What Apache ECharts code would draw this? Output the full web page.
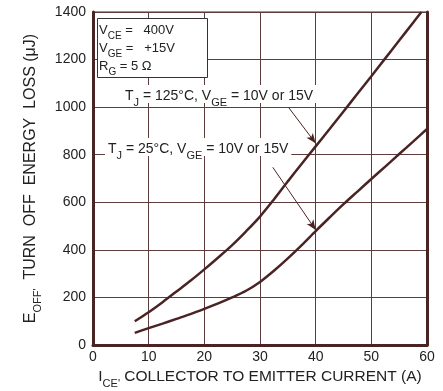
<!DOCTYPE html>
<html><head><meta charset="utf-8">
<script src="https://cdn.jsdelivr.net/npm/echarts@6/dist/echarts.min.js"></script>
<style>html,body{margin:0;padding:0;background:#fff}#c{width:443px;height:391px}</style>
</head><body><div id="c"></div>
<script>
const xTicks = [0, 10, 20, 30, 40, 50, 60];
const yTicks = [0, 200, 400, 600, 800, 1000, 1200, 1400];
const hotX = [7.5, 10, 12.5, 15, 17.5, 20, 22.5, 25, 27.5, 30, 32.5, 35, 37.5, 40, 42.5, 45, 47.5, 50, 52.5, 55, 57.5, 59];
const hotY = [100, 138, 180, 225, 270, 318, 368, 420, 478, 540, 612, 688, 762, 835, 908, 982, 1056, 1130, 1205, 1280, 1355, 1400];
const coldX = [7.5, 10, 12.5, 15, 17.5, 20, 22.5, 25, 27.5, 30, 32.5, 35, 37.5, 40, 42.5, 45, 47.5, 50, 52.5, 55, 57.5, 60];
const coldY = [51, 71, 90, 110, 130, 152, 175, 200, 228, 265, 312, 364, 420, 479, 536, 592, 645, 698, 750, 803, 855, 908];
const arrowHot = [[35.1, 1000], [40, 848]];
const arrowCold = [[32.3, 747], [40, 484]];

const dark = '#4a2424';
const grid = '#5e3c3c';
const ff = '"Liberation Sans", Arial, sans-serif';
const chart = echarts.init(document.getElementById('c'));
const pair = (xs, ys) => xs.map((x, i) => [x, ys[i]]);
const mkRich = (big, small, lh, sh, off) => ({
  b: {fontSize: big, fontFamily: ff, color: '#222', fill: '#222', lineHeight: lh, verticalAlign: 'bottom'},
  s: {fontSize: small, fontFamily: ff, color: '#222', fill: '#222', lineHeight: sh, verticalAlign: 'bottom', padding: [0,0,-off,0]}
});
chart.setOption({
  animation: false,
  grid: {left: 93, right: 16, top: 12, bottom: 46, show: true, borderColor: dark, borderWidth: 1, outerBoundsMode: 'none', containLabel: false},
  xAxis: {
    type: 'value', min: 0, max: 60, interval: 10,
    axisLine: {show: true, lineStyle: {color: dark, width: 3}},
    axisTick: {show: false},
    splitLine: {show: true, lineStyle: {color: grid, width: 1}},
    axisLabel: {fontSize: 14, color: '#222', fontFamily: ff, margin: 5},
    name: '{b|I}{s|CE\'}{b| COLLECTOR TO EMITTER CURRENT (A)}',
    nameLocation: 'middle', nameGap: 18,
    nameTextStyle: {rich: mkRich(15.5, 11, 19, 15, 5)}
  },
  yAxis: [{
    type: 'value', min: 0, max: 1400, interval: 200,
    axisLine: {show: true, lineStyle: {color: dark, width: 3}},
    axisTick: {show: false},
    splitLine: {show: true, lineStyle: {color: grid, width: 1}},
    axisLabel: {fontSize: 14, color: '#222', fontFamily: ff, margin: 7, formatter: v => String(v)},
    name: '{b|E}{s|OFF\'}{b|  TURN  OFF  ENERGY  LOSS (μJ)}',
    nameLocation: 'middle', nameGap: 45, nameRotate: 90,
    nameTextStyle: {rich: mkRich(16, 11, 19, 15, 5)}
  }, {
    type: 'value', min: 0, max: 1400, interval: 200, position: 'right',
    axisLine: {show: true, lineStyle: {color: dark, width: 3}},
    axisTick: {show: false}, axisLabel: {show: false}, splitLine: {show: false}
  }],
  series: [
    {type: 'line', data: pair(hotX, hotY), smooth: 0.3, showSymbol: false,
     lineStyle: {color: dark, width: 2.5},
     markLine: {silent: true, symbol: ['none', 'arrow'], symbolSize: [6, 10], label: {show: false},
       lineStyle: {color: dark, width: 1, type: 'solid'},
       data: [[{coord: arrowHot[0]}, {coord: arrowHot[1]}], [{coord: arrowCold[0]}, {coord: arrowCold[1]}]]}},
    {type: 'line', data: pair(coldX, coldY), smooth: 0.3, showSymbol: false,
     lineStyle: {color: dark, width: 2.5}}
  ],
  graphic: [
    {type: 'rect', shape: {x: 97.5, y: 18.5, width: 110, height: 59}, style: {fill: '#fff', stroke: '#333', lineWidth: 1}, z: 10},
    {type: 'text', x: 99, y: 19, z: 11, style: {
      text: '{b|V}{s|CE}{b| =   400V}\n{b|V}{s|GE}{b| =   +15V}\n{b|R}{s|G}{b| = 5 Ω}',
      rich: mkRich(13, 10, 18, 14, 4)}},
    {type: 'text', x: 122, y: 85, z: 11, style: {
      text: '{b|T}{s|J}{b| = 125°C, V}{s|GE}{b| = 10V or 15V}',
      backgroundColor: '#fff', padding: [0, 3, 0, 3],
      rich: mkRich(14, 11, 18, 14, 5)}},
    {type: 'text', x: 105, y: 138, z: 11, style: {
      text: '{b|T}{s|J}{b| = 25°C, V}{s|GE}{b| = 10V or 15V}',
      backgroundColor: '#fff', padding: [0, 3, 0, 3],
      rich: mkRich(14, 11, 18, 14, 5)}}
  ]
});
</script></body></html>
